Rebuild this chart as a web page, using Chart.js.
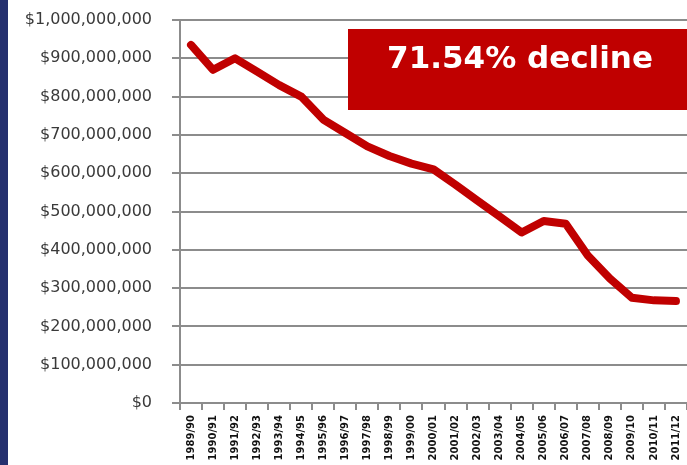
<!DOCTYPE html>
<html>
<head>
<meta charset="utf-8">
<script src="https://cdn.jsdelivr.net/npm/chart.js@4.4.0/dist/chart.umd.min.js"></script>
<style>
  html, body { margin: 0; padding: 0; background: #fff; }
  #strip { position: absolute; left: 0; top: 0; width: 8px; height: 465px; background: #25306e; }
  #wrap { position: absolute; left: 8px; top: 0; width: 679px; height: 465px; }
</style>
</head>
<body>
<div id="strip"></div>
<div id="wrap"><canvas id="fundingChart"></canvas></div>
<script>
// ===============================
// DATA
// ===============================

const years = [
  "1989/90", "1990/91", "1991/92", "1992/93", "1993/94", "1994/95",
  "1995/96", "1996/97", "1997/98", "1998/99", "1999/00", "2000/01",
  "2001/02", "2002/03", "2003/04", "2004/05", "2005/06", "2006/07",
  "2007/08", "2008/09", "2009/10", "2010/11", "2011/12"
];

// dollars (in millions)
const fundingMillions = [
  935, 870, 900, 865, 830, 800,
  740, 705, 670, 645, 625, 610,
  570, 528, 487, 445, 475, 468,
  385, 325, 275, 268, 266
];

const yTicks = [0, 100, 200, 300, 400, 500, 600, 700, 800, 900, 1000]; // millions
const badgeText = "71.54% decline";

// ===============================
// BADGE PLUGIN
// ===============================

const badge = {
  id: "badge",
  afterDraw(chart) {
    const ctx = chart.ctx;
    const left = 340, top = 29, right = 679, bottom = 110;
    ctx.save();
    ctx.fillStyle = "#c00000";
    ctx.fillRect(left, top, right - left, bottom - top);
    ctx.fillStyle = "#ffffff";
    ctx.font = "bold 31px 'DejaVu Sans'";
    ctx.textAlign = "center";
    ctx.textBaseline = "middle";
    ctx.fillText(badgeText, 512, 60);
    ctx.restore();
  }
};

// ===============================
// DRAW CHART
// ===============================

const gridGrey = "#8c8c8c";

new Chart(document.getElementById("fundingChart"), {
  type: "line",
  data: {
    labels: years,
    datasets: [{
      data: fundingMillions.map(v => v * 1e6),
      borderColor: "#c00000",
      borderWidth: 8,
      borderJoinStyle: "round",
      borderCapStyle: "round",
      pointRadius: 0,
      tension: 0,
      fill: false
    }]
  },
  options: {
    responsive: true,
    maintainAspectRatio: false,
    animation: false,
    layout: { padding: { top: 20, right: 0, bottom: 0, left: 0 } },
    plugins: {
      legend: { display: false },
      tooltip: { enabled: false }
    },
    scales: {
      x: {
        type: "category",
        offset: true,
        afterFit: s => {
          s.height = 62;
          s.paddingLeft = 0;
          s.paddingRight = 0;
        },
        grid: {
          offset: true,
          drawOnChartArea: false,
          drawTicks: true,
          tickLength: 7,
          color: gridGrey,
          lineWidth: 2
        },
        border: { color: gridGrey, width: 2 },
        ticks: {
          autoSkip: false,
          minRotation: 90,
          maxRotation: 90,
          padding: 5,
          color: "#111",
          font: { family: "DejaVu Sans", size: 10, weight: "bold" }
        }
      },
      y: {
        min: 0,
        max: 1e9,
        afterFit: s => {
          s.width = 172;
          s.paddingTop = 0;
          s.paddingBottom = 0;
        },
        afterBuildTicks: s => { s.ticks = yTicks.map(v => ({ value: v * 1e6 })); },
        grid: {
          color: gridGrey,
          lineWidth: 2,
          tickLength: 8
        },
        border: { color: gridGrey, width: 2 },
        ticks: {
          padding: 20,
          color: "#3a3a3a",
          font: { family: "DejaVu Sans", size: 16 },
          callback: v => "$" + Number(v).toLocaleString("en-US")
        }
      }
    }
  },
  plugins: [badge]
});
</script>
</body>
</html>
